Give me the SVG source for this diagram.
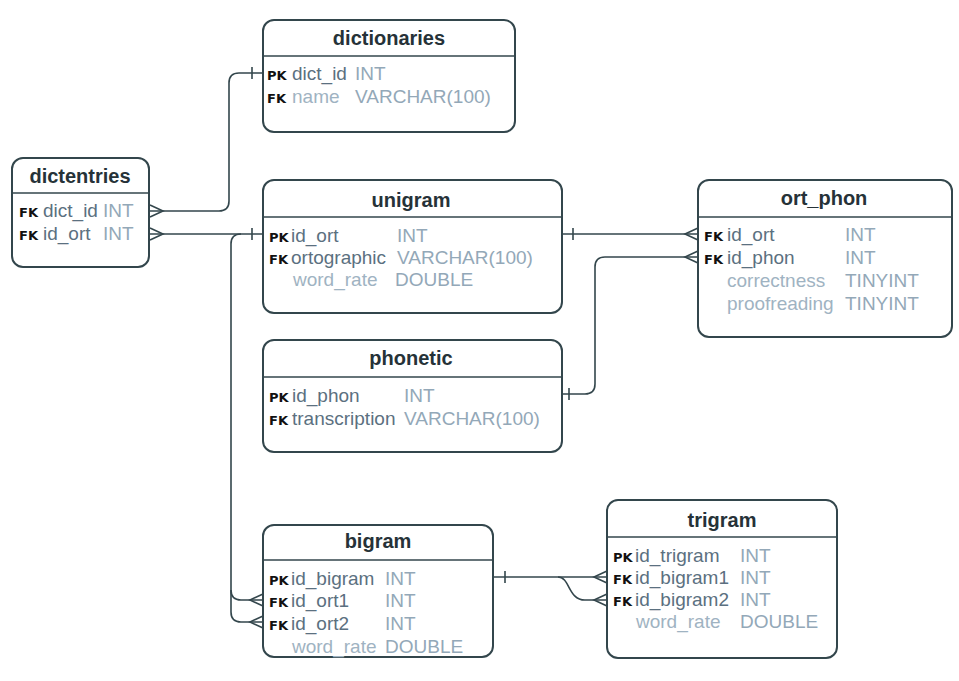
<svg xmlns="http://www.w3.org/2000/svg" width="959" height="681" viewBox="0 0 959 681">
<style>
.box{fill:#fff;stroke:#33464c;stroke-width:2}
.hl{stroke:#33464c;stroke-width:1.6}
.t{font-family:"Liberation Sans",Arial,sans-serif;font-size:20px;font-weight:bold;fill:#263238;text-anchor:middle}
.k{font-family:"DejaVu Sans",sans-serif;font-size:13px;font-weight:bold;fill:#111}
.f{font-family:"Liberation Sans",Arial,sans-serif;font-size:19px;fill:#5b7080}
.y{font-family:"Liberation Sans",Arial,sans-serif;font-size:19px;fill:#93a8b8}
.n{font-family:"Liberation Sans",Arial,sans-serif;font-size:19px;fill:#9fb3c2}
.c{fill:none;stroke:#33464c;stroke-width:1.6}
</style>
<rect width="959" height="681" fill="#fff"/>
<g id="connectors">
<path class="c" d="M150,211 H219 Q229,211 229,201 V83 Q229,73 239,73 H263"/>
<path class="c" d="M252,67 V79"/>
<path class="c" d="M150,205 L163,211 L150,217"/>
<path class="c" d="M150,234 H263"/>
<path class="c" d="M252,228 V240"/>
<path class="c" d="M150,228 L163,234 L150,240"/>
<path class="c" d="M241,234 Q231,234 231,244 V612 Q231,622 241,622 H263"/>
<path class="c" d="M231,590 Q231,600 241,600 H263"/>
<path class="c" d="M263,594 L250,600 L263,606"/>
<path class="c" d="M263,616 L250,622 L263,628"/>
<path class="c" d="M562,234 H698"/>
<path class="c" d="M573,228 V240"/>
<path class="c" d="M698,228 L685,234 L698,240"/>
<path class="c" d="M562,394 H585 Q595,394 595,384 V267 Q595,257 605,257 H698"/>
<path class="c" d="M569,388 V400"/>
<path class="c" d="M698,251 L685,257 L698,263"/>
<path class="c" d="M493,577 H607"/>
<path class="c" d="M505,571 V583"/>
<path class="c" d="M558,577 C570,577 568,600 585,600 H607"/>
<path class="c" d="M607,571 L594,577 L607,583"/>
<path class="c" d="M607,594 L594,600 L607,606"/>
</g>
<g id="dictionaries">
<rect class="box" x="263" y="20" width="252" height="112" rx="11"/>
<line class="hl" x1="264" y1="56" x2="514" y2="56"/>
<text class="t" x="389" y="45">dictionaries</text>
<text class="k" x="267" y="80">PK</text><text class="f" x="292" y="80">dict_id</text><text class="y" x="355" y="80">INT</text>
<text class="k" x="267" y="103">FK</text><text class="n" x="292" y="103">name</text><text class="y" x="355" y="103">VARCHAR(100)</text>
</g>
<g id="dictentries">
<rect class="box" x="12" y="158" width="137" height="109" rx="11"/>
<line class="hl" x1="13" y1="193" x2="148" y2="193"/>
<text class="t" x="80" y="183">dictentries</text>
<text class="k" x="19" y="217">FK</text><text class="f" x="43" y="217">dict_id</text><text class="y" x="103" y="217">INT</text>
<text class="k" x="19" y="240">FK</text><text class="f" x="43" y="240">id_ort</text><text class="y" x="103" y="240">INT</text>
</g>
<g id="unigram">
<rect class="box" x="263" y="180" width="299" height="133" rx="11"/>
<line class="hl" x1="264" y1="217" x2="561" y2="217"/>
<text class="t" x="411" y="207">unigram</text>
<text class="k" x="269" y="242">PK</text><text class="f" x="291" y="242">id_ort</text><text class="y" x="397" y="242">INT</text>
<text class="k" x="269" y="264">FK</text><text class="f" x="291" y="264">ortographic</text><text class="y" x="397" y="264">VARCHAR(100)</text>
<text class="n" x="293" y="286">word_rate</text><text class="y" x="395" y="286">DOUBLE</text>
</g>
<g id="ort_phon">
<rect class="box" x="698" y="180" width="254" height="157" rx="11"/>
<line class="hl" x1="699" y1="217" x2="951" y2="217"/>
<text class="t" x="824" y="205">ort_phon</text>
<text class="k" x="704" y="241">FK</text><text class="f" x="727" y="241">id_ort</text><text class="y" x="845" y="241">INT</text>
<text class="k" x="704" y="264">FK</text><text class="f" x="727" y="264">id_phon</text><text class="y" x="845" y="264">INT</text>
<text class="n" x="727" y="287">correctness</text><text class="y" x="845" y="287">TINYINT</text>
<text class="n" x="727" y="310">proofreading</text><text class="y" x="845" y="310">TINYINT</text>
</g>
<g id="phonetic">
<rect class="box" x="263" y="340" width="299" height="112" rx="11"/>
<line class="hl" x1="264" y1="377" x2="561" y2="377"/>
<text class="t" x="411" y="365">phonetic</text>
<text class="k" x="269" y="402">PK</text><text class="f" x="292" y="402">id_phon</text><text class="y" x="404" y="402">INT</text>
<text class="k" x="269" y="425">FK</text><text class="f" x="292" y="425">transcription</text><text class="y" x="404" y="425">VARCHAR(100)</text>
</g>
<g id="bigram">
<rect class="box" x="263" y="525" width="230" height="132" rx="11"/>
<line class="hl" x1="264" y1="560" x2="492" y2="560"/>
<text class="t" x="378" y="548">bigram</text>
<text class="k" x="269" y="585">PK</text><text class="f" x="291" y="585">id_bigram</text><text class="y" x="385" y="585">INT</text>
<text class="k" x="269" y="607">FK</text><text class="f" x="291" y="607">id_ort1</text><text class="y" x="385" y="607">INT</text>
<text class="k" x="269" y="630">FK</text><text class="f" x="291" y="630">id_ort2</text><text class="y" x="385" y="630">INT</text>
<text class="n" x="292" y="653">word_rate</text><text class="y" x="385" y="653">DOUBLE</text>
</g>
<g id="trigram">
<rect class="box" x="607" y="500" width="230" height="158" rx="11"/>
<line class="hl" x1="608" y1="537" x2="836" y2="537"/>
<text class="t" x="722" y="527">trigram</text>
<text class="k" x="613" y="562">PK</text><text class="f" x="635" y="562">id_trigram</text><text class="y" x="740" y="562">INT</text>
<text class="k" x="613" y="584">FK</text><text class="f" x="635" y="584">id_bigram1</text><text class="y" x="740" y="584">INT</text>
<text class="k" x="613" y="606">FK</text><text class="f" x="635" y="606">id_bigram2</text><text class="y" x="740" y="606">INT</text>
<text class="n" x="636" y="628">word_rate</text><text class="y" x="740" y="628">DOUBLE</text>
</g>
</svg>
